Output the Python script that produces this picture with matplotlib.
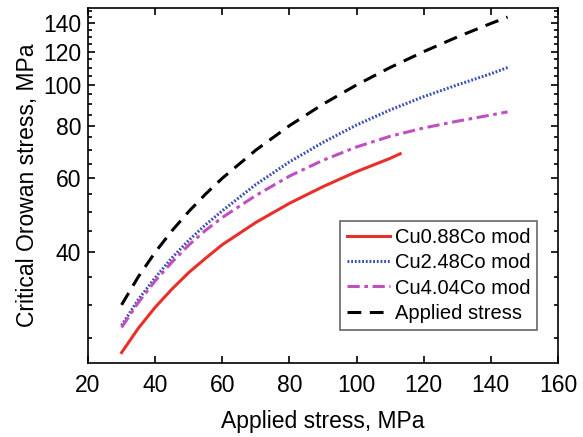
import matplotlib.pyplot as plt
import matplotlib.ticker as mticker

plt.rcParams['font.family'] = ['Liberation Sans', 'DejaVu Sans']

# applied stress, MPa
x_mod = [30, 35, 40, 45, 50, 55, 60, 70, 80, 90, 100, 110, 120, 130, 140, 145]
x_red = [30, 35, 40, 45, 50, 55, 60, 70, 80, 90, 100, 110, 113]

# critical Orowan stress, MPa
cu088 = [23.1, 26.4, 29.6, 32.7, 35.8, 38.7, 41.7, 47.1, 52.3, 57.3, 62.2, 66.9, 68.6]
cu248 = [26.8, 30.9, 34.8, 38.8, 42.7, 46.5, 50.2, 58.0, 65.6, 73.0, 80.3, 87.2, 93.8, 100.0, 106.3, 110.0]
cu404 = [26.5, 30.4, 34.2, 37.9, 41.6, 45.1, 48.4, 54.6, 60.7, 66.2, 71.2, 75.5, 79.0, 82.0, 84.8, 86.3]
applied = [30, 35, 40, 45, 50, 55, 60, 70, 80, 90, 100, 110, 120, 130, 140, 145]

fig = plt.figure(figsize=(5.83, 4.37), dpi=100)
ax = fig.add_axes([0.151, 0.169, 0.806, 0.813])

lw = 2.2
ax.plot(x_red, cu088, color='#e8302a', lw=lw, label='Cu0.88Co mod')
ax.plot(x_mod, cu248, color='#3a4fb0', lw=lw, linestyle=(0, (0.6, 0.6)), label='Cu2.48Co mod')
ax.plot(x_mod, cu404, color='#c050c0', lw=lw, linestyle=(0, (4, 1.5, 1.2, 1.5)), label='Cu4.04Co mod')
ax.plot(x_mod, applied, color='black', lw=lw, linestyle=(0, (4.5, 2.8)), label='Applied stress')

ax.set_yscale('log')
ax.set_xlim(20, 160)
ax.set_ylim(21.8, 152.5)
ax.xaxis.set_major_locator(mticker.FixedLocator([20, 40, 60, 80, 100, 120, 140, 160]))
ax.yaxis.set_major_locator(mticker.FixedLocator([40, 60, 80, 100, 120, 140]))
ax.yaxis.set_major_formatter(mticker.FixedFormatter(['40', '60', '80', '100', '120', '140']))
ax.yaxis.set_minor_locator(mticker.FixedLocator([v for v in range(25, 155, 5) if v % 20 != 0]))
ax.yaxis.set_minor_formatter(mticker.NullFormatter())

ax.tick_params(which='both', direction='in', top=True, right=True, labelsize=16.5, width=1.2)
ax.tick_params(which='major', length=5)
ax.tick_params(which='minor', length=3)
ax.tick_params(axis='x', pad=8)
ax.tick_params(axis='y', pad=5)
for s in ax.spines.values():
    s.set_linewidth(1.2)

ax.set_xlabel('Applied stress, MPa', fontsize=16.5, labelpad=9)
ax.set_ylabel('Critical Orowan stress, MPa', fontsize=16.5, labelpad=3)

leg = ax.legend(loc='lower right', bbox_to_anchor=(0.977, 0.066), fontsize=14.5,
                fancybox=False, edgecolor='#666666', framealpha=1,
                handlelength=2.15, handletextpad=0.2, borderpad=0.35, labelspacing=0.3)
leg.get_frame().set_linewidth(1.2)

fig.savefig('out.png', dpi=100)
